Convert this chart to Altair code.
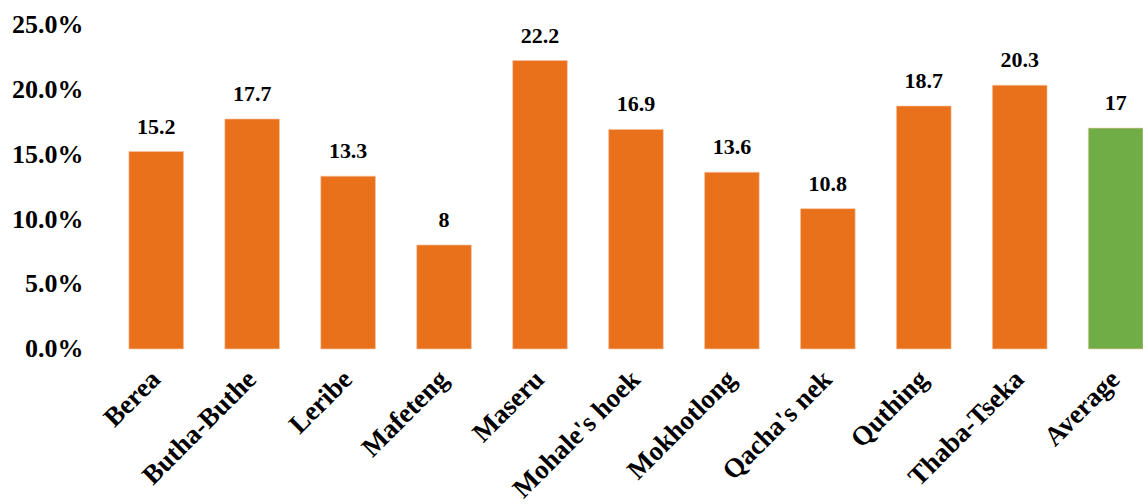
import altair as alt
import pandas as pd

districts = ["Berea", "Butha-Buthe", "Leribe", "Mafeteng", "Maseru", "Mohale's hoek",
             "Mokhotlong", "Qacha's nek", "Quthing", "Thaba-Tseka", "Average"]
rates = [15.2, 17.7, 13.3, 8, 22.2, 16.9, 13.6, 10.8, 18.7, 20.3, 17]
groups = ["District"] * 10 + ["Average"]

df = pd.DataFrame({"district": districts, "rate": rates, "group": groups})

FONT = "Liberation Serif"

x = alt.X("district:N", sort=districts, title=None,
          scale=alt.Scale(paddingInner=0.43, paddingOuter=0),
          axis=alt.Axis(labelAngle=-45, labelAlign="right", labelBaseline="middle",
                        labelPadding=26, labelFontSize=27, labelFont=FONT,
                        labelFontWeight="bold", labelColor="#000000",
                        domain=False, ticks=False, labelOverlap=False))

y = alt.Y("rate:Q", title=None,
          scale=alt.Scale(domain=[0, 25], nice=False),
          axis=alt.Axis(values=[0, 5, 10, 15, 20, 25],
                        labelExpr="format(datum.value, '.1f') + '%'",
                        labelFontSize=26, labelFont=FONT, labelFontWeight="bold",
                        labelColor="#000000", labelPadding=46,
                        domain=False, ticks=False, grid=False))

bars = alt.Chart(df).mark_bar(stroke="#f7c4a4", strokeWidth=0.6).encode(
    x=x, y=y,
    color=alt.Color("group:N", legend=None,
                    scale=alt.Scale(domain=["District", "Average"],
                                    range=["#ea711b", "#70ad47"])),
)

labels = alt.Chart(df).mark_text(
    font=FONT, fontSize=22, fontWeight="bold", color="#000000",
    baseline="alphabetic", dy=-18,
).encode(x=alt.X("district:N", sort=districts), y="rate:Q",
         text=alt.Text("rate:Q", format="~g"))

chart = (bars + labels).properties(
    width=1015, height=325,
    autosize=alt.AutoSizeParams(type="none"),
    padding={"left": 129, "top": 24, "right": 0, "bottom": 155},
).configure_view(stroke=None)

chart.save("out.html", embed_options={"renderer": "svg", "actions": False})
